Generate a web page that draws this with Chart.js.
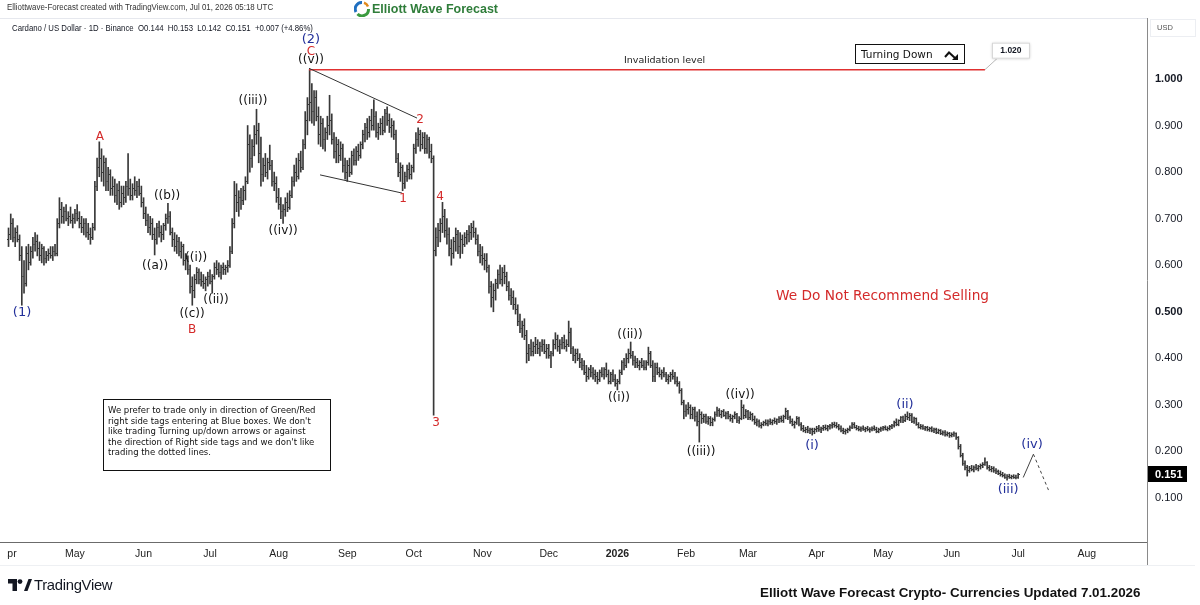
<!DOCTYPE html>
<html>
<head>
<meta charset="utf-8">
<title>Cardano / US Dollar - 1D</title>
<script src="https://cdn.jsdelivr.net/npm/chart.js@4.4.1/dist/chart.umd.min.js"></script>
<style>
  html, body { margin: 0; padding: 0; background: #fff; width: 1200px; height: 605px; overflow: hidden; }
  #wrap { position: relative; width: 1200px; height: 605px; font-family: "DejaVu Sans", Verdana, sans-serif; color: #131722; }
  #chart { position: absolute; left: -30px; top: 0; }
  .abs { position: absolute; white-space: nowrap; }
  .fit { transform-origin: 0 50%; }
</style>
</head>
<body>
<div id="wrap">
  <canvas id="chart" width="1230" height="605"></canvas>

  <!-- cabecera -->
  <div class="abs fit" data-w="266" style="left:7px;top:2px;font:8.5px 'Liberation Sans',Arial,sans-serif;color:#333;">Elliottwave-Forecast created with TradingView.com, Jul 01, 2026 05:18 UTC</div>
  <div class="abs" style="left:0;top:18px;width:1147px;height:1px;background:#e6e8ee;"></div>
  <div class="abs fit" data-w="301" style="left:12px;top:22px;font:9.5px 'Liberation Sans',Arial,sans-serif;color:#131722;">Cardano / US Dollar · 1D · Binance&nbsp; O0.144&nbsp; H0.153&nbsp; L0.142&nbsp; C0.151&nbsp; +0.007 (+4.86%)</div>

  <!-- logo EWF -->
  <svg class="abs" style="left:354px;top:1px;" width="16" height="16" viewBox="0 0 16 16">
    <path d="M8 1.5 A6.5 6.5 0 0 0 2 11" stroke="#1f6fc0" stroke-width="3" fill="none"/>
    <path d="M3.5 13 A6.5 6.5 0 0 0 14.5 8" stroke="#3a9a3f" stroke-width="3" fill="none"/>
    <path d="M14 5.5 A6.5 6.5 0 0 0 10 1.8" stroke="#e08a1e" stroke-width="2.5" fill="none"/>
  </svg>
  <div class="abs fit" data-w="126" style="left:372px;top:1px;font:bold 13px 'Liberation Sans',Arial,sans-serif;color:#2f7d3a;">Elliott Wave Forecast</div>

  <!-- eje de precios -->
  <div class="abs" style="left:1150px;top:19px;width:44px;height:16px;border:1px solid #eceef2;font:7.5px 'Liberation Sans',Arial,sans-serif;color:#555;line-height:16px;text-indent:6px;">USD</div>
  <div class="abs" style="left:0;top:565px;width:1195px;height:1px;background:#eef0f3;"></div>
  <div class="abs" style="left:1147px;top:542px;width:1px;height:23px;background:#8a8a8a;"></div>
  <div class="abs" style="left:0;top:544px;width:7px;height:18px;background:#fff;"></div>

  <!-- anotaciones de texto -->
  <div class="abs" style="left:624px;top:54px;font-size:9.5px;color:#222;">Invalidation level</div>
  <div class="abs" style="left:855px;top:44px;width:108px;height:18px;border:1.5px solid #111;font-size:10.5px;line-height:18px;color:#111;">
    <span style="margin-left:5px;">Turning Down</span>
    <svg style="position:absolute;left:88px;top:4px;" width="16" height="12" viewBox="0 0 16 12">
      <path d="M1 8 L5 3.5 L11 9" stroke="#111" stroke-width="2" fill="none"/>
      <path d="M14 11 L8 11 L14 5 Z" fill="#111"/>
    </svg>
  </div>
  <div class="abs" style="left:776px;top:287px;font-size:13.7px;color:#d42a2a;">We Do Not Recommend Selling</div>
  <div class="abs" style="left:103px;top:399px;width:222px;height:65px;border:1.5px solid #111;font-size:8.5px;line-height:10.6px;color:#111;padding:5px 0 0 4px;box-sizing:content-box;">We prefer to trade only in direction of Green/Red<br>right side tags entering at Blue boxes. We don't<br>like trading Turning up/down arrows or against<br>the direction of Right side tags and we don't like<br>trading the dotted lines.</div>

  <!-- pie -->
  <svg class="abs" style="left:8px;top:579px;" width="24" height="12" viewBox="0 0 24 12">
    <path d="M0 0 H9 V12 H4.5 V4.5 H0 Z" fill="#131722"/>
    <circle cx="12" cy="2.6" r="2.4" fill="#131722"/>
    <path d="M16 12 L20.5 0 H24 L19.5 12 Z" fill="#131722"/>
  </svg>
  <div class="abs fit" data-w="78" style="left:34px;top:576px;font:15px 'Liberation Sans',Arial,sans-serif;color:#131722;letter-spacing:-0.3px;">TradingView</div>
  <div class="abs fit" data-w="380" style="left:760px;top:585px;font:bold 13px 'Liberation Sans',Arial,sans-serif;color:#111;">Elliott Wave Forecast Crypto- Currencies Updated 7.01.2026</div>
</div>

<script>
// ADA/USDT diario, Binance. indice 0 = 1 abr 2025, indice 456 = 1 jul 2026
const opens = [
  .655,.665,.690,.660,.670,.655,.620,.575,.560,.625,
  .605,.630,.645,.650,.635,.620,.635,.615,.620,.625,
  .620,.630,.625,.690,.720,.705,.715,.700,.705,.695,
  .700,.710,.700,.690,.680,.690,.670,.665,.660,.680,
  .770,.810,.830,.800,.820,.780,.795,.765,.770,.750,
  .760,.735,.755,.745,.770,.765,.750,.765,.760,.770,
  .755,.735,.710,.695,.680,.690,.665,.655,.680,.670,
  .665,.685,.700,.705,.670,.655,.640,.650,.630,.640,
  .610,.615,.590,.555,.545,.570,.585,.570,.565,.560,
  .570,.575,.565,.575,.595,.590,.585,.595,.590,.595,
  .600,.630,.690,.750,.735,.745,.740,.760,.780,.860,
  .830,.855,.880,.890,.840,.795,.815,.800,.820,.815,
  .780,.775,.745,.730,.715,.720,.735,.725,.750,.780,
  .800,.790,.825,.810,.860,.910,.945,.950,.930,.960,
  .920,.880,.905,.870,.885,.900,.910,.870,.845,.860,
  .835,.850,.815,.800,.815,.800,.835,.825,.845,.835,
  .860,.880,.895,.885,.910,.900,.920,.885,.895,.905,
  .890,.925,.910,.895,.900,.880,.830,.800,.810,.775,
  .790,.805,.795,.810,.850,.870,.880,.860,.875,.850,
  .870,.845,.830,.632,.660,.675,.690,.705,.675,.665,
  .635,.625,.650,.665,.640,.655,.645,.660,.665,.670,
  .680,.670,.655,.630,.620,.615,.610,.595,.555,.530,
  .545,.560,.580,.570,.585,.575,.555,.535,.530,.515,
  .505,.480,.465,.470,.450,.410,.420,.415,.425,.430,
  .420,.425,.430,.415,.420,.405,.410,.430,.440,.425,
  .430,.435,.425,.430,.455,.420,.405,.410,.400,.390,
  .385,.370,.360,.375,.370,.365,.360,.355,.370,.365,
  .375,.365,.350,.365,.355,.345,.350,.370,.390,.385,
  .400,.410,.405,.395,.390,.385,.390,.385,.380,.390,
  .410,.385,.360,.380,.370,.365,.370,.365,.355,.360,
  .365,.360,.350,.345,.330,.305,.285,.290,.295,.280,
  .290,.275,.265,.280,.270,.275,.265,.270,.262,.268,
  .280,.288,.280,.285,.278,.282,.274,.270,.275,.280,
  .266,.270,.295,.278,.285,.272,.280,.268,.262,.265,
  .256,.258,.262,.260,.265,.262,.266,.264,.268,.270,
  .266,.275,.285,.272,.265,.258,.262,.270,.258,.250,
  .245,.248,.244,.246,.242,.247,.250,.246,.249,.252,
  .250,.253,.255,.258,.256,.253,.250,.245,.242,.244,
  .247,.252,.258,.252,.250,.248,.250,.247,.249,.246,
  .248,.250,.247,.243,.246,.249,.251,.248,.250,.253,
  .255,.262,.258,.266,.272,.266,.276,.272,.278,.265,
  .270,.258,.252,.254,.249,.251,.246,.249,.245,.247,
  .241,.244,.239,.241,.236,.238,.234,.236,.238,.229,
  .210,.192,.175,.165,.160,.164,.162,.166,.163,.168,
  .170,.172,.176,.165,.162,.164,.158,.156,.153,.150,
  .148,.145,.147,.144,.146,.145,.144
];
const highs = [
  .680,.710,.700,.680,.685,.665,.640,.610,.640,.645,
  .640,.660,.670,.665,.650,.645,.640,.630,.635,.640,
  .640,.645,.700,.745,.735,.725,.730,.715,.725,.710,
  .720,.730,.715,.705,.700,.700,.690,.680,.690,.780,
  .830,.865,.850,.835,.830,.810,.805,.790,.785,.775,
  .780,.770,.770,.780,.840,.785,.775,.790,.780,.785,
  .770,.745,.725,.710,.705,.700,.680,.690,.695,.685,
  .690,.710,.733,.715,.680,.670,.665,.660,.650,.645,
  .625,.620,.600,.575,.580,.595,.592,.585,.580,.575,
  .585,.590,.580,.605,.610,.605,.600,.605,.600,.610,
  .640,.700,.780,.775,.760,.765,.770,.790,.900,.880,
  .870,.900,.935,.905,.875,.830,.840,.830,.858,.825,
  .800,.790,.765,.745,.730,.745,.755,.760,.790,.815,
  .830,.840,.845,.870,.930,.960,1.020,.990,.975,.975,
  .940,.920,.915,.895,.920,.965,.925,.885,.875,.870,
  .865,.860,.830,.825,.830,.845,.850,.855,.860,.865,
  .890,.905,.915,.920,.935,.955,.930,.905,.915,.920,
  .935,.940,.925,.915,.910,.890,.840,.820,.815,.800,
  .815,.820,.815,.860,.885,.895,.890,.885,.885,.880,
  .875,.860,.835,.680,.690,.700,.735,.720,.700,.680,
  .655,.660,.680,.675,.670,.665,.670,.675,.685,.690,
  .695,.680,.665,.645,.640,.625,.625,.600,.565,.560,
  .570,.590,.600,.595,.600,.585,.565,.550,.545,.530,
  .515,.495,.480,.485,.460,.430,.440,.435,.445,.440,
  .435,.440,.440,.430,.430,.415,.440,.455,.450,.440,
  .445,.450,.440,.480,.465,.425,.420,.420,.410,.400,
  .395,.385,.380,.385,.380,.375,.370,.375,.380,.380,
  .390,.375,.370,.375,.365,.355,.375,.395,.400,.410,
  .420,.435,.415,.405,.400,.395,.400,.395,.395,.424,
  .415,.395,.390,.390,.380,.375,.380,.370,.365,.370,
  .375,.370,.360,.350,.335,.310,.300,.305,.300,.295,
  .295,.285,.290,.285,.280,.280,.275,.275,.272,.285,
  .295,.292,.288,.290,.285,.286,.280,.278,.285,.282,
  .275,.310,.300,.290,.288,.285,.282,.276,.270,.268,
  .262,.265,.268,.268,.270,.268,.272,.270,.275,.276,
  .278,.293,.288,.276,.270,.265,.275,.274,.262,.256,
  .252,.254,.250,.250,.250,.254,.256,.252,.256,.257,
  .256,.258,.262,.263,.262,.258,.255,.250,.248,.250,
  .255,.262,.262,.256,.254,.253,.255,.252,.254,.251,
  .253,.255,.252,.250,.252,.254,.255,.253,.256,.258,
  .265,.270,.268,.275,.276,.280,.285,.282,.281,.274,
  .272,.262,.258,.257,.254,.254,.252,.253,.250,.250,
  .248,.247,.244,.245,.242,.241,.240,.242,.240,.232,
  .215,.196,.180,.170,.168,.170,.169,.172,.170,.173,
  .176,.186,.178,.170,.168,.167,.163,.160,.158,.155,
  .152,.150,.151,.149,.150,.149,.153
];
const lows = [
  .640,.655,.650,.640,.650,.610,.514,.540,.555,.590,
  .600,.615,.630,.620,.610,.605,.600,.605,.610,.615,
  .610,.620,.620,.680,.690,.690,.695,.685,.690,.680,
  .690,.695,.680,.670,.665,.660,.655,.645,.655,.675,
  .760,.790,.780,.770,.760,.760,.750,.750,.735,.730,
  .720,.725,.730,.735,.750,.740,.740,.750,.745,.750,
  .725,.700,.685,.670,.665,.655,.622,.645,.660,.650,
  .655,.675,.690,.665,.640,.630,.625,.620,.615,.600,
  .590,.580,.540,.514,.530,.560,.560,.555,.550,.545,
  .555,.560,.540,.570,.580,.575,.570,.580,.580,.585,
  .595,.625,.680,.715,.705,.720,.730,.740,.775,.800,
  .810,.835,.860,.820,.770,.780,.790,.785,.805,.770,
  .760,.735,.720,.700,.690,.705,.715,.720,.745,.770,
  .780,.785,.800,.805,.850,.880,.910,.905,.900,.910,
  .860,.855,.850,.845,.870,.880,.860,.830,.820,.820,
  .825,.800,.785,.780,.790,.795,.815,.815,.825,.830,
  .850,.865,.870,.875,.890,.890,.875,.870,.880,.880,
  .885,.900,.885,.875,.870,.820,.790,.780,.760,.765,
  .780,.785,.785,.800,.840,.855,.845,.850,.840,.840,
  .830,.820,.278,.620,.640,.650,.670,.660,.645,.620,
  .600,.615,.630,.625,.615,.625,.640,.645,.650,.655,
  .660,.645,.620,.605,.600,.590,.585,.540,.510,.500,
  .525,.550,.560,.555,.560,.545,.525,.515,.505,.495,
  .470,.455,.445,.440,.390,.395,.405,.405,.410,.410,
  .405,.415,.410,.400,.400,.380,.405,.420,.415,.410,
  .420,.420,.415,.425,.410,.395,.390,.395,.380,.375,
  .365,.350,.355,.360,.355,.350,.345,.350,.360,.355,
  .360,.345,.345,.350,.340,.332,.345,.365,.375,.380,
  .390,.400,.385,.380,.380,.375,.380,.375,.375,.385,
  .380,.350,.350,.365,.360,.355,.360,.350,.345,.350,
  .355,.345,.340,.325,.300,.270,.275,.280,.270,.270,
  .265,.255,.220,.260,.262,.260,.258,.255,.255,.265,
  .275,.275,.272,.275,.270,.270,.265,.262,.270,.262,
  .260,.268,.270,.272,.268,.268,.265,.258,.255,.252,
  .250,.255,.256,.255,.258,.257,.260,.258,.262,.263,
  .262,.270,.268,.260,.255,.250,.258,.255,.245,.242,
  .240,.240,.238,.235,.238,.242,.243,.240,.245,.246,
  .244,.248,.250,.252,.250,.246,.242,.238,.237,.240,
  .244,.249,.250,.246,.244,.243,.245,.242,.244,.241,
  .244,.245,.240,.240,.243,.245,.246,.244,.246,.249,
  .252,.255,.255,.262,.262,.264,.268,.266,.262,.260,
  .256,.250,.248,.247,.245,.244,.243,.242,.240,.238,
  .238,.236,.235,.233,.233,.230,.231,.232,.226,.205,
  .188,.170,.160,.147,.155,.158,.156,.160,.158,.162,
  .165,.170,.162,.158,.156,.155,.152,.150,.147,.145,
  .142,.138,.142,.141,.142,.141,.142
];
const closes = [
  .665,.690,.660,.670,.655,.620,.575,.560,.625,.605,
  .630,.645,.650,.635,.620,.635,.615,.620,.625,.620,
  .630,.625,.690,.720,.705,.715,.700,.705,.695,.700,
  .710,.700,.690,.680,.690,.670,.665,.660,.680,.770,
  .810,.830,.800,.820,.780,.795,.765,.770,.750,.760,
  .735,.755,.745,.770,.765,.750,.765,.760,.770,.755,
  .735,.710,.695,.680,.690,.665,.655,.680,.670,.665,
  .685,.700,.705,.670,.655,.640,.650,.630,.640,.610,
  .615,.590,.555,.545,.570,.585,.570,.565,.560,.570,
  .575,.565,.575,.595,.590,.585,.595,.590,.595,.600,
  .630,.690,.750,.735,.745,.740,.760,.780,.860,.830,
  .855,.880,.890,.840,.795,.815,.800,.820,.815,.780,
  .775,.745,.730,.715,.720,.735,.725,.750,.780,.800,
  .790,.825,.810,.860,.910,.945,.950,.930,.960,.920,
  .880,.905,.870,.885,.900,.910,.870,.845,.860,.835,
  .850,.815,.800,.815,.800,.835,.825,.845,.835,.860,
  .880,.895,.885,.910,.900,.920,.885,.895,.905,.890,
  .925,.910,.895,.900,.880,.830,.800,.810,.775,.790,
  .805,.795,.810,.850,.870,.880,.860,.875,.850,.870,
  .845,.830,.632,.660,.675,.690,.705,.675,.665,.635,
  .625,.650,.665,.640,.655,.645,.660,.665,.670,.680,
  .670,.655,.630,.620,.615,.610,.595,.555,.530,.545,
  .560,.580,.570,.585,.575,.555,.535,.530,.515,.505,
  .480,.465,.470,.450,.410,.420,.415,.425,.430,.420,
  .425,.430,.415,.420,.405,.410,.430,.440,.425,.430,
  .435,.425,.430,.455,.420,.405,.410,.400,.390,.385,
  .370,.360,.375,.370,.365,.360,.355,.370,.365,.375,
  .365,.350,.365,.355,.345,.350,.370,.390,.385,.400,
  .410,.405,.395,.390,.385,.390,.385,.380,.390,.410,
  .385,.360,.380,.370,.365,.370,.365,.355,.360,.365,
  .360,.350,.345,.330,.305,.285,.290,.295,.280,.290,
  .275,.265,.280,.270,.275,.265,.270,.262,.268,.280,
  .288,.280,.285,.278,.282,.274,.270,.275,.280,.266,
  .270,.295,.278,.285,.272,.280,.268,.262,.265,.256,
  .258,.262,.260,.265,.262,.266,.264,.268,.270,.266,
  .275,.285,.272,.265,.258,.262,.270,.258,.250,.245,
  .248,.244,.246,.242,.247,.250,.246,.249,.252,.250,
  .253,.255,.258,.256,.253,.250,.245,.242,.244,.247,
  .252,.258,.252,.250,.248,.250,.247,.249,.246,.248,
  .250,.247,.243,.246,.249,.251,.248,.250,.253,.255,
  .262,.258,.266,.272,.266,.276,.272,.278,.265,.270,
  .258,.252,.254,.249,.251,.246,.249,.245,.247,.241,
  .244,.239,.241,.236,.238,.234,.236,.238,.229,.210,
  .192,.175,.165,.160,.164,.162,.166,.163,.168,.170,
  .172,.176,.165,.162,.164,.158,.156,.153,.150,.148,
  .145,.147,.144,.146,.145,.144,.151
];

// eje de tiempo: dia (desde 1 abr 2025) en que empieza cada mes
const monthDays = [0, 30, 61, 91, 122, 153, 183, 214, 244, 275, 306, 334, 365, 395, 426, 456, 487];
const monthLabels = ["Apr", "May", "Jun", "Jul", "Aug", "Sep", "Oct", "Nov", "Dec", "2026", "Feb", "Mar", "Apr", "May", "Jun", "Jul", "Aug"];
const priceTicks = [0.1, 0.2, 0.3, 0.4, 0.5, 0.6, 0.7, 0.8, 0.9, 1.0];

// conteo de ondas: [texto, dia, precio, color]
const waveLabels = [
  ["(1)", 6.1, 0.499, "blue"], ["A", 41.3, 0.875, "red"], ["((a))", 66.2, 0.598, "black"],
  ["((b))", 71.6, 0.749, "black"], ["((c))", 82.9, 0.495, "black"], ["B", 82.9, 0.461, "red"],
  ["((i))", 84.7, 0.615, "black"], ["((ii))", 93.7, 0.525, "black"], ["((iii))", 110.4, 0.953, "black"],
  ["((iv))", 124.0, 0.673, "black"], ["(2)", 136.6, 1.084, "blue"], ["C", 136.6, 1.058, "red"],
  ["((v))", 136.6, 1.041, "black"], ["1", 178.2, 0.742, "red"], ["2", 185.9, 0.912, "red"],
  ["3", 193.1, 0.261, "red"], ["4", 194.9, 0.746, "red"], ["((i))", 275.7, 0.315, "black"],
  ["((ii))", 280.7, 0.450, "black"], ["((iii))", 312.8, 0.199, "black"], ["((iv))", 330.4, 0.321, "black"],
  ["(i)", 362.9, 0.212, "blue"], ["(ii)", 404.9, 0.300, "blue"], ["(iii)", 451.5, 0.117, "blue"],
  ["(iv)", 462.3, 0.214, "blue"]
];
const invalidation = 1.020;

// dibujos: triangulo, nivel de invalidacion y proyeccion
const wedgeUpper = [{ x: 135.7, y: 1.023 }, { x: 184.5, y: 0.916 }];
const wedgeLower = [{ x: 140.7, y: 0.794 }, { x: 177.7, y: 0.755 }];
const invalidLine = [{ x: 135.7, y: invalidation }, { x: 441, y: invalidation }];
const projUp = [{ x: 458.3, y: 0.144 }, { x: 462.9, y: 0.194 }];
const projDown = [{ x: 462.9, y: 0.194 }, { x: 469.7, y: 0.117 }];

const COLORS = { blue: "#23309a", red: "#d42a2a", black: "#111" };
const BAR = "#383838";

// marcas de apertura (izq) y cierre (der)
function tickImage(side) {
  const c = document.createElement("canvas");
  c.width = 3; c.height = 1;
  const g = c.getContext("2d");
  g.fillStyle = BAR;
  g.fillRect(side === "open" ? 0 : 2, 0, 1, 1);
  return c;
}

const rangeData = highs.map((h, i) => ({ x: i, y: [lows[i], h] }));
const openData = opens.map((v, i) => ({ x: i, y: v }));
const closeData = closes.map((v, i) => ({ x: i, y: v }));

const lineDs = (data, color, dash, width) => ({
  type: "line", data, borderColor: color, borderWidth: width || 1, borderDash: dash || [],
  pointRadius: 0, fill: false, tension: 0, order: 0
});

const overlay = {
  id: "overlay",
  afterDatasetsDraw(chart) {
    const { ctx, chartArea, scales: { x, y } } = chart;
    ctx.save();
    ctx.textAlign = "center";
    ctx.textBaseline = "middle";
    waveLabels.forEach(([t, d, p, c]) => {
      ctx.font = (c === "blue" ? "13px" : "12px") + ' "DejaVu Sans", Verdana, sans-serif';
      ctx.fillStyle = COLORS[c];
      ctx.fillText(t, x.getPixelForValue(d), y.getPixelForValue(p));
    });

    // etiqueta 1.020 al final de la linea de invalidacion
    const ex = x.getPixelForValue(invalidLine[1].x);
    const ey = y.getPixelForValue(invalidation);
    ctx.strokeStyle = "#b8b8b8";
    ctx.lineWidth = 1;
    ctx.beginPath();
    ctx.moveTo(ex, ey);
    ctx.lineTo(ex + 12, ey - 11);
    ctx.stroke();
    ctx.shadowColor = "rgba(0,0,0,0.25)";
    ctx.shadowBlur = 3;
    ctx.fillStyle = "#fff";
    ctx.fillRect(ex + 7, ey - 27, 38, 16);
    ctx.shadowBlur = 0;
    ctx.strokeStyle = "#d6d6d6";
    ctx.strokeRect(ex + 7.5, ey - 26.5, 37, 15);
    ctx.fillStyle = "#131722";
    ctx.font = 'bold 8.5px "Liberation Sans", Arial, sans-serif';
    ctx.fillText(invalidation.toFixed(3), ex + 26, ey - 19);

    // ultimo precio en el eje
    const last = closes[closes.length - 1];
    const py = Math.round(y.getPixelForValue(last));
    ctx.fillStyle = "#000";
    ctx.fillRect(chartArea.right + 1, py - 8, 39, 16);
    ctx.fillStyle = "#fff";
    ctx.textAlign = "left";
    ctx.font = 'bold 11px "Liberation Sans", Arial, sans-serif';
    ctx.fillText(last.toFixed(3), chartArea.right + 8, py + 0.5);
    ctx.restore();
  }
};

new Chart(document.getElementById("chart"), {
  type: "bar",
  data: {
    datasets: [
      { type: "bar", data: rangeData, backgroundColor: BAR, barThickness: 1, order: 2 },
      { type: "scatter", data: openData, pointStyle: tickImage("open"), pointRadius: 1, order: 1 },
      { type: "scatter", data: closeData, pointStyle: tickImage("close"), pointRadius: 1, order: 1 },
      lineDs(wedgeUpper, "#333"),
      lineDs(wedgeLower, "#333"),
      lineDs(invalidLine, "#e03030", null, 1.5),
      lineDs(projUp, "#444"),
      lineDs(projDown, "#444", [3, 3])
    ]
  },
  options: {
    responsive: false,
    animation: false,
    devicePixelRatio: 1,
    layout: { padding: { left: 30, right: 0, top: 18, bottom: 40 } },
    plugins: { legend: { display: false }, tooltip: { enabled: false } },
    scales: {
      x: {
        type: "linear",
        min: -3.85,
        max: 514.2,
        offset: false,
        grid: { display: false, drawTicks: false },
        border: { display: true, color: "#6b6b6b", width: 1 },
        afterBuildTicks: (s) => { s.ticks = monthDays.map((v) => ({ value: v })); },
        afterFit: (s) => { s.height = 23; },
        ticks: {
          autoSkip: false,
          maxRotation: 0,
          padding: 6,
          color: "#222",
          font: (c) => ({ family: "'Liberation Sans', Arial, sans-serif", size: 10.5, weight: c.tick && c.tick.value === 275 ? "bold" : "normal" }),
          callback: (v) => monthLabels[monthDays.indexOf(v)]
        }
      },
      y: {
        type: "linear",
        position: "right",
        min: 0.0054,
        max: 1.131,
        grid: { display: false, drawTicks: false },
        border: { display: true, color: "#8a8a8a", width: 1 },
        afterBuildTicks: (s) => { s.ticks = priceTicks.map((v) => ({ value: v })); },
        afterFit: (s) => { s.width = 53; },
        ticks: {
          padding: 8,
          color: "#131722",
          font: (c) => ({ family: "'Liberation Sans', Arial, sans-serif", size: 11, weight: c.tick && (c.tick.value === 1.0 || c.tick.value === 0.5) ? "bold" : "normal" }),
          callback: (v) => v.toFixed(3)
        }
      }
    }
  },
  plugins: [overlay]
});

// ajustar ancho de los textos de cabecera/pie al de la referencia
document.querySelectorAll(".fit").forEach((el) => {
  const w = Number(el.dataset.w);
  el.style.transform = "scaleX(" + (w / el.offsetWidth).toFixed(3) + ")";
});
</script>
</body>
</html>
